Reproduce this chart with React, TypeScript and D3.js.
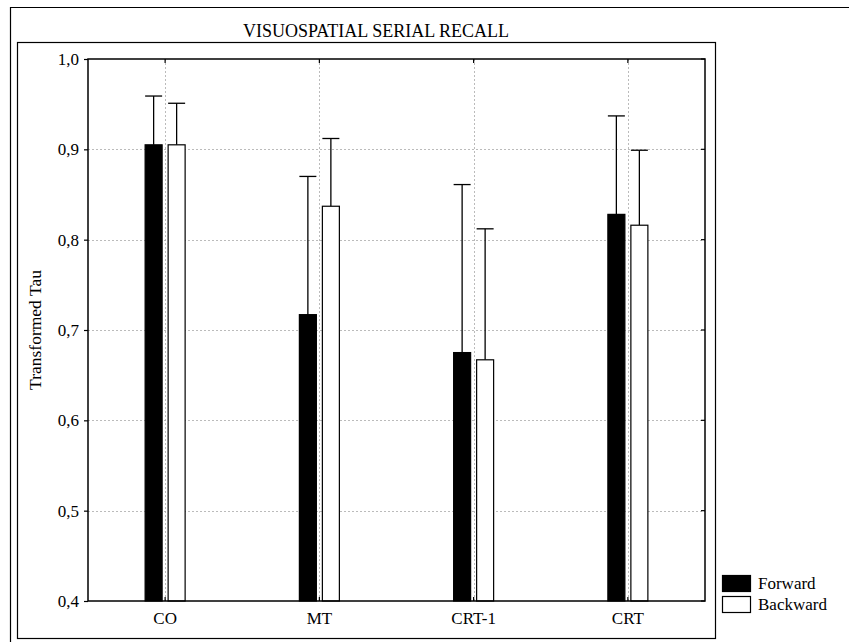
import React, { useEffect, useRef } from 'react';
import * as d3 from 'd3';

const categories = ['CO', 'MT', 'CRT-1', 'CRT'];
const seriesNames = ['Forward', 'Backward'];
const forwardMeans = [0.905, 0.717, 0.675, 0.828];
const forwardUpper = [0.959, 0.870, 0.861, 0.937];
const backwardMeans = [0.905, 0.837, 0.667, 0.816];
const backwardUpper = [0.951, 0.912, 0.812, 0.899];
const yTicks = [0.4, 0.5, 0.6, 0.7, 0.8, 0.9, 1.0];

const W = 849;
const H = 642;
const FONT = '"Liberation Serif", "Times New Roman", serif';

const App: React.FC = () => {
  const svgRef = useRef<SVGSVGElement>(null);

  useEffect(() => {
    const svg = d3.select(svgRef.current);
    svg.selectAll('*').remove();

    const plot = { left: 88, top: 59, right: 705, bottom: 601 };

    // outer frame (runs off the right and bottom edges)
    svg.append('path')
      .attr('d', `M10.5,${H + 5} V7.5 H${W + 5}`)
      .attr('fill', 'none').attr('stroke', '#000').attr('stroke-width', 1.2);

    // title box
    svg.append('rect')
      .attr('x', 17.5).attr('y', 42.5).attr('width', 698).attr('height', 596)
      .attr('fill', 'none').attr('stroke', '#000').attr('stroke-width', 1.2);

    svg.append('text')
      .attr('x', 376).attr('y', 37)
      .attr('text-anchor', 'middle')
      .attr('font-family', FONT).attr('font-size', 18)
      .text('VISUOSPATIAL SERIAL RECALL');

    const x = d3.scaleBand<string>()
      .domain(categories)
      .range([plot.left, plot.right]);

    const y = d3.scaleLinear()
      .domain([0.4, 1.0])
      .range([plot.bottom, plot.top]);

    const g = svg.append('g');

    // grid
    g.selectAll('.hgrid')
      .data(yTicks.slice(1, -1))
      .enter().append('line')
      .attr('x1', plot.left).attr('x2', plot.right)
      .attr('y1', d => Math.round(y(d)) + 0.5).attr('y2', d => Math.round(y(d)) + 0.5)
      .attr('stroke', '#aaa').attr('stroke-width', 0.8).attr('stroke-dasharray', '2,2');

    g.selectAll('.vgrid')
      .data(categories)
      .enter().append('line')
      .attr('x1', d => Math.round(x(d)! + x.bandwidth() / 2) + 0.5)
      .attr('x2', d => Math.round(x(d)! + x.bandwidth() / 2) + 0.5)
      .attr('y1', plot.top).attr('y2', plot.bottom)
      .attr('stroke', '#aaa').attr('stroke-width', 0.8).attr('stroke-dasharray', '2,2');

    const barW = 17;
    const gap = 6;
    const series = [
      { name: seriesNames[0], means: forwardMeans, upper: forwardUpper, fill: '#000', off: -gap / 2 - barW },
      { name: seriesNames[1], means: backwardMeans, upper: backwardUpper, fill: '#fff', off: gap / 2 },
    ];

    series.forEach(s => {
      const data = categories.map((c, i) => ({ c, v: s.means[i], u: s.upper[i] }));
      const sg = g.append('g');
      sg.selectAll('line.err')
        .data(data)
        .enter().append('line')
        .attr('x1', d => x(d.c)! + x.bandwidth() / 2 + s.off + barW / 2)
        .attr('x2', d => x(d.c)! + x.bandwidth() / 2 + s.off + barW / 2)
        .attr('y1', d => y(d.v)).attr('y2', d => y(d.u))
        .attr('stroke', '#000').attr('stroke-width', 1.3);
      sg.selectAll('line.cap')
        .data(data)
        .enter().append('line')
        .attr('x1', d => x(d.c)! + x.bandwidth() / 2 + s.off)
        .attr('x2', d => x(d.c)! + x.bandwidth() / 2 + s.off + barW)
        .attr('y1', d => y(d.u)).attr('y2', d => y(d.u))
        .attr('stroke', '#000').attr('stroke-width', 1.3);
      sg.selectAll('rect')
        .data(data)
        .enter().append('rect')
        .attr('x', d => x(d.c)! + x.bandwidth() / 2 + s.off)
        .attr('y', d => y(d.v))
        .attr('width', barW)
        .attr('height', d => plot.bottom - y(d.v))
        .attr('fill', s.fill)
        .attr('stroke', '#000').attr('stroke-width', 1.2);
    });

    // plot frame
    g.append('rect')
      .attr('x', plot.left).attr('y', plot.top)
      .attr('width', plot.right - plot.left).attr('height', plot.bottom - plot.top)
      .attr('fill', 'none').attr('stroke', '#000').attr('stroke-width', 1.5);

    // y axis
    const yAxis = g.append('g')
      .attr('transform', `translate(${plot.left},0)`)
      .call(d3.axisLeft(y).tickValues(yTicks).tickSize(4).tickPadding(5)
        .tickFormat(d => d3.format('.1f')(d as number).replace('.', ',')));
    yAxis.select('.domain').remove();
    yAxis.selectAll('text').attr('font-family', FONT).attr('font-size', 17).attr('fill', '#000');
    yAxis.selectAll('line').attr('stroke', '#000').attr('stroke-width', 1.2);

    // right-side inner ticks
    g.selectAll('.rtick')
      .data(yTicks)
      .enter().append('line')
      .attr('x1', plot.right - 4).attr('x2', plot.right)
      .attr('y1', d => y(d)).attr('y2', d => y(d))
      .attr('stroke', '#000').attr('stroke-width', 1.2);

    // x axis
    const xAxis = g.append('g')
      .attr('transform', `translate(0,${plot.bottom})`)
      .call(d3.axisBottom(x).tickSize(-4).tickPadding(11));
    xAxis.select('.domain').remove();
    xAxis.selectAll('text').attr('font-family', FONT).attr('font-size', 17).attr('fill', '#000');
    xAxis.selectAll('line').attr('stroke', '#000').attr('stroke-width', 1.2);

    // top inner ticks
    g.selectAll('.ttick')
      .data(categories)
      .enter().append('line')
      .attr('x1', d => x(d)! + x.bandwidth() / 2).attr('x2', d => x(d)! + x.bandwidth() / 2)
      .attr('y1', plot.top).attr('y2', plot.top + 4)
      .attr('stroke', '#000').attr('stroke-width', 1.2);

    // y label
    svg.append('text')
      .attr('transform', 'translate(41,330) rotate(-90)')
      .attr('text-anchor', 'middle')
      .attr('font-family', FONT).attr('font-size', 17.5)
      .text('Transformed Tau');

    // legend
    const legend = svg.append('g').attr('transform', 'translate(722,575)');
    seriesNames.forEach((name, i) => {
      const row = legend.append('g').attr('transform', `translate(0,${i * 21})`);
      row.append('rect')
        .attr('x', 0.5).attr('y', 0.5).attr('width', 28).attr('height', 16)
        .attr('fill', i === 0 ? '#000' : '#fff')
        .attr('stroke', '#000').attr('stroke-width', 1.2);
      row.append('text')
        .attr('x', 36).attr('y', 14)
        .attr('font-family', FONT).attr('font-size', 17)
        .text(name);
    });
  }, []);

  return (
    <svg
      ref={svgRef}
      width={W}
      height={H}
      style={{ position: 'absolute', left: 0, top: 0, background: '#fff' }}
    />
  );
};

export default App;
